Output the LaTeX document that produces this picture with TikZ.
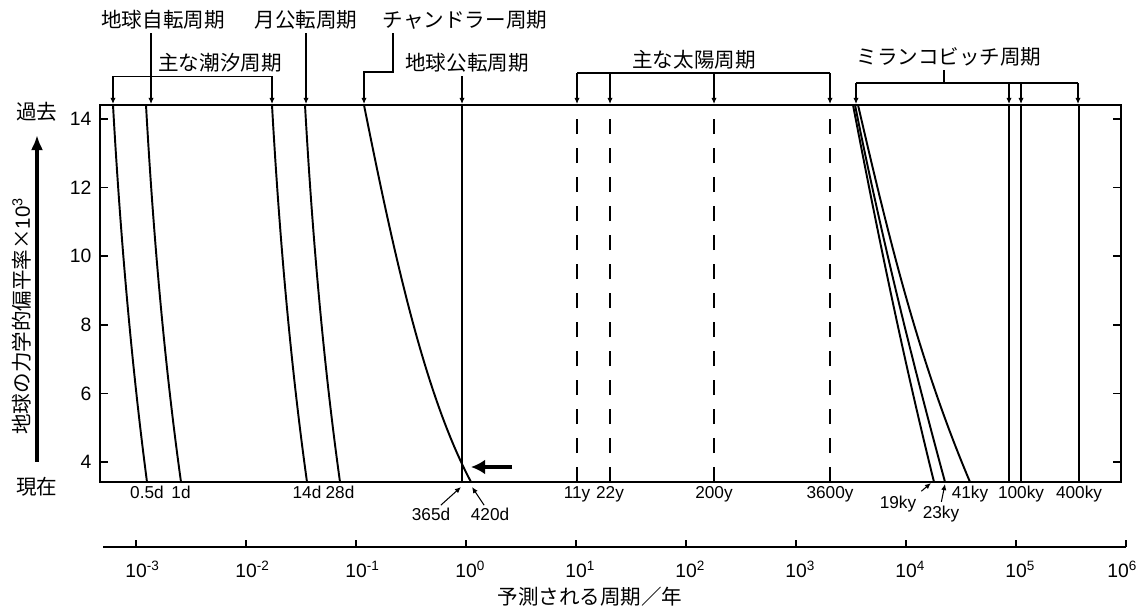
\documentclass[tikz,border=0pt]{standalone}
\usepackage{fontspec}
\setmainfont{Liberation Sans}
\newfontfamily\jpfont{Noto Sans CJK JP}
\usetikzlibrary{positioning, arrows.meta}

\tikzset{
  jtext/.style={font=\jpfont\fontsize{11.7pt}{14pt}\selectfont, inner sep=1.7pt},
  numtext/.style={font=\fontsize{9.8pt}{11pt}\selectfont, inner sep=1pt},
  axistext/.style={font=\fontsize{11pt}{12pt}\selectfont, inner sep=0pt},
  pointer/.style={-{Latex[length=3.5pt,width=3pt]}, line width=0.6pt},
  period/.style={line width=1.1pt},
  solarline/.style={line width=1.6pt, dash pattern=on 8.5pt off 8pt},
}

\begin{document}
\begin{tikzpicture}[x=0.02cm, y=-0.02cm, line width=0.8pt]
\useasboundingbox (0,0) rectangle (1141,614);

% frame and flattening ticks
\draw (100,105) rectangle (1121,482);
\foreach \v in {4,6,...,14} {
  \draw (100,{462-34.3*(\v-4)}) -- ++(8,0);
  \draw (1121,{462-34.3*(\v-4)}) -- ++(-8,0);
  \node[axistext, anchor=east] (y\v) at (92,{462-34.3*(\v-4)}) {\v};
}

% period axis
\draw (103,547) -- (1126,547);
\foreach \e in {-3,...,6} {
  \draw ({466+110*\e},547) -- ++(0,-7);
  \node[axistext] (x\e) at ({466+110*\e-(\e==6)*8},569) {10\rlap{\textsuperscript{\e}}};
}
\node[jtext] (xtitle) at (590,597) {予測される周期／年};

% flattening axis
\node[jtext] (past) at (37,112) {過去};
\node[jtext] (now) at (37,487) {現在};
\draw[line width=2.2pt, -{Latex[length=8.5pt,width=7pt]}, shorten <=0.24cm, shorten >=0.2cm] (now) -- (past);
\node[jtext, rotate=90] (ylab) at (22,316) {地球の力学的偏平率×{\normalfont 10\textsuperscript{3}}};

% labels above the frame
\node[jtext] (spin) at (163,20) {地球自転周期};
\node[jtext] (lunar) at (306,20) {月公転周期};
\node[jtext] (chandler) at (465,20) {チャンドラー周期};
\node[jtext] (tidal) at (220,63) {主な潮汐周期};
\node[jtext] (orbit) at (467,63) {地球公転周期};
\node[jtext] (solar) at (694,60) {主な太陽周期};
\node[jtext] (milank) at (949,57) {ミランコビッチ周期};

\coordinate (t-spin) at (151,104);
\coordinate (t-lunar) at (306,104);
\coordinate (t-tide1) at (113,104);
\coordinate (t-tide2) at (272,104);
\coordinate (t-chandler) at (364,104);
\coordinate (t-orbit) at (462,104);

\draw[pointer] (spin.south -| t-spin) -- (t-spin);
\draw[pointer] (lunar.south -| t-lunar) -- (t-lunar);
\draw (tidal.south -| t-tide1) -- (tidal.south -| t-tide2);
\draw[pointer] (tidal.south -| t-tide1) -- (t-tide1);
\draw[pointer] (tidal.south -| t-tide2) -- (t-tide2);
\draw[pointer] (chandler.south -| 393,0) |- (364,72) -- (t-chandler);
\draw[pointer] (orbit.south -| t-orbit) -- (t-orbit);

\draw (solar.south -| 577,0) -- (solar.south -| 830,0);
\foreach \x in {577,610,714,830}
  \draw[pointer] (solar.south -| \x,0) -- (\x,104);

\draw (milank.south -| 944,0) -- (944,83);
\draw (856,83) -- (1078,83);
\foreach \x in {856,1009,1021,1078}
  \draw[pointer] (\x,83) -- (\x,104);

% rotation and tidal periods
\draw[period] (113,105) .. controls (120,230) and (131,360) .. (147,482) coordinate (e-half);
\draw[period] (146,105) .. controls (153,230) and (164,360) .. (181,482) coordinate (e-day);
\draw[period] (272,105) .. controls (279,230) and (290,360) .. (307,482) coordinate (e-14);
\draw[period] (305,105) .. controls (312,230) and (323,360) .. (340,482) coordinate (e-28);

% year and Chandler wobble
\draw[period] (462,105) -- (462,482);
\draw[period] (364,105) .. controls (395,260) and (425,395) .. (471,482);
\coordinate (c365) at (461,487);
\coordinate (c420) at (472,487);
\coordinate (cross) at (463,467);
\draw[line width=2.6pt, -{Latex[length=8pt,width=8.5pt]}] ([xshift=0.98cm]cross) -- ([xshift=0.16cm]cross);

% solar cycles
\foreach \x in {577,610,714,830}
  \draw[solarline] (\x,482) -- (\x,105);
\coordinate (e-11) at (577,482);
\coordinate (e-22) at (610,482);
\coordinate (e-200) at (714,482);
\coordinate (e-3600) at (830,482);

% Milankovitch cycles
\draw[period] (853,105) .. controls (877,230) and (903,357) .. (934,482) coordinate (e-19);
\draw[period] (855,105) .. controls (880,230) and (911,357) .. (945,482) coordinate (e-23);
\draw[period] (858,105) .. controls (887,230) and (917,357) .. (970,482) coordinate (e-41);
\draw[period] (1009,105) -- (1009,482);
\draw[period] (1021,105) -- (1021,482) coordinate (e-100);
\draw[period] (1079,105) -- (1079,482) coordinate (e-400);

% period labels
\node[numtext, below=1pt of e-half] (l-half) {0.5d};
\node[numtext, below=1pt of e-day] (l-day) {1d};
\node[numtext, below=1pt of e-14] (l-14) {14d};
\node[numtext, below=1pt of e-28] (l-28) {28d};
\node[numtext, below=1pt of e-11] (l-11) {11y};
\node[numtext, below=1pt of e-22] (l-22) {22y};
\node[numtext, below=1pt of e-200] (l-200) {200y};
\node[numtext, below=1pt of e-3600] (l-3600) {3600y};
\node[numtext, below=1pt of e-41] (l-41) {41ky};
\node[numtext, below=1pt of e-100] (l-100) {100ky};
\node[numtext, below=1pt of e-400] (l-400) {400ky};

\node[numtext] (l-365) at (431,514) {365d};
\node[numtext] (l-420) at (490,514) {420d};
\draw[pointer] (l-365) -- (c365);
\draw[pointer] (l-420) -- (c420);

\node[numtext] (l-19) at (898,504) {19ky};
\node[numtext] (l-23) at (941,514) {23ky};
\draw[pointer, shorten <=2pt] (l-19.north east) -- ([xshift=-0.06cm,yshift=-0.02cm]e-19);
\draw[pointer, shorten <=1pt] (l-23.north) -- ([yshift=-0.04cm]e-23);
\end{tikzpicture}
\end{document}
